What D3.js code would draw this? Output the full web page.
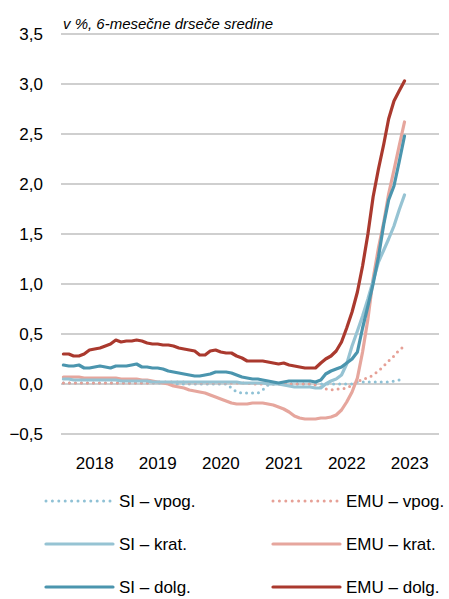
<!DOCTYPE html>
<html lang="sl">
<head>
    <meta charset="UTF-8">
    <title>Obrestne mere, 6-mesečne drseče sredine</title>
    <script src="https://d3js.org/d3.v7.min.js"></script>
    <style>
        body {
            margin: 0;
            background: #fff;
            font-family: "Liberation Sans", Arial, sans-serif;
        }

        .grid line {
            stroke: #bfbfbf;
            stroke-width: 1.5;
        }

        .series {
            fill: none;
            stroke-linejoin: round;
        }
    </style>
</head>
<body>
    <div id="chart"></div>

    <script>
        // monthly observations, Jan 2018 - Jun 2023
        const months = d3.timeMonths(new Date(2018, 0, 1), new Date(2023, 6, 1));
        const yearTicks = [2018, 2019, 2020, 2021, 2022, 2023];
        const yTicks = [-0.5, 0, 0.5, 1, 1.5, 2, 2.5, 3, 3.5];

        const seriesNames = ["SI – vpog.", "EMU – vpog.", "SI – krat.", "EMU – krat.", "SI – dolg.", "EMU – dolg."];

        const siVpog = [
            0.01, 0.01, 0.01, 0.01, 0.01, 0.01, 0.01, 0.01, 0.01, 0.01, 0.01, 0.01,
            0.01, 0.01, 0.01, 0.01, 0.01, 0.01, 0.01, 0.01, 0.01, 0.00, 0.00, 0.00,
            0.00, 0.00, 0.00, 0.00, 0.00, 0.00, 0.00, 0.00, -0.04, -0.08, -0.09, -0.09,
            -0.09, -0.09, -0.06, -0.01, 0.00, 0.00, 0.00, 0.00, 0.00, 0.00, 0.00, 0.00,
            0.00, 0.00, 0.00, 0.00, 0.00, 0.00, 0.00, 0.00, 0.02, 0.02, 0.02, 0.02,
            0.02, 0.02, 0.02, 0.03, 0.04, 0.06
        ];
        const emuVpog = [
            0.01, 0.01, 0.01, 0.01, 0.01, 0.01, 0.01, 0.01, 0.01, 0.01, 0.01, 0.01,
            0.01, 0.01, 0.01, 0.01, 0.01, 0.01, 0.02, 0.02, 0.02, 0.02, 0.02, 0.02,
            0.01, 0.01, 0.01, 0.01, 0.01, 0.01, 0.01, 0.01, 0.01, 0.01, 0.01, 0.01,
            0.00, 0.00, 0.00, 0.00, 0.00, 0.00, 0.00, 0.00, 0.00, 0.00, 0.00, 0.00,
            -0.01, -0.03, -0.05, -0.06, -0.05, -0.05, -0.04, -0.01, 0.02, 0.05, 0.06, 0.09,
            0.13, 0.18, 0.23, 0.28, 0.34, 0.38
        ];
        const siKrat = [
            0.05, 0.05, 0.04, 0.04, 0.04, 0.04, 0.04, 0.04, 0.04, 0.04, 0.04, 0.03,
            0.03, 0.03, 0.03, 0.03, 0.03, 0.02, 0.02, 0.02, 0.02, 0.02, 0.02, 0.02,
            0.02, 0.02, 0.02, 0.02, 0.02, 0.02, 0.02, 0.02, 0.02, 0.02, 0.01, 0.01,
            0.01, 0.01, 0.01, 0.00, 0.00, 0.00, -0.01, -0.02, -0.03, -0.03, -0.03, -0.03,
            -0.04, -0.04, 0.00, 0.03, 0.05, 0.09, 0.20, 0.38, 0.53, 0.68, 0.85, 1.03,
            1.22, 1.34, 1.45, 1.58, 1.74, 1.89
        ];
        const emuKrat = [
            0.07, 0.07, 0.07, 0.07, 0.06, 0.06, 0.06, 0.06, 0.06, 0.06, 0.06, 0.05,
            0.05, 0.05, 0.05, 0.04, 0.04, 0.03, 0.02, 0.01, 0.00, -0.02, -0.03, -0.04,
            -0.06, -0.07, -0.08, -0.09, -0.11, -0.13, -0.15, -0.17, -0.19, -0.20, -0.20, -0.20,
            -0.19, -0.19, -0.19, -0.20, -0.21, -0.23, -0.25, -0.28, -0.32, -0.34, -0.35, -0.35,
            -0.35, -0.34, -0.34, -0.33, -0.31, -0.26, -0.18, -0.08, 0.06, 0.32, 0.65, 1.05,
            1.36, 1.62, 1.90, 2.14, 2.38, 2.62
        ];
        const siDolg = [
            0.19, 0.18, 0.18, 0.19, 0.16, 0.16, 0.17, 0.18, 0.17, 0.16, 0.18, 0.18,
            0.18, 0.19, 0.20, 0.17, 0.17, 0.16, 0.16, 0.15, 0.13, 0.12, 0.11, 0.10,
            0.09, 0.08, 0.08, 0.09, 0.10, 0.12, 0.12, 0.12, 0.11, 0.09, 0.07, 0.06,
            0.05, 0.05, 0.04, 0.03, 0.02, 0.01, 0.02, 0.03, 0.03, 0.03, 0.03, 0.03,
            0.02, 0.04, 0.10, 0.13, 0.15, 0.17, 0.21, 0.25, 0.32, 0.56, 0.78, 1.00,
            1.27, 1.60, 1.84, 1.98, 2.22, 2.48
        ];
        const emuDolg = [
            0.30, 0.30, 0.28, 0.28, 0.30, 0.34, 0.35, 0.36, 0.38, 0.40, 0.44, 0.42,
            0.43, 0.43, 0.44, 0.43, 0.41, 0.40, 0.40, 0.39, 0.39, 0.38, 0.36, 0.35,
            0.34, 0.33, 0.29, 0.29, 0.33, 0.34, 0.32, 0.31, 0.31, 0.28, 0.26, 0.23,
            0.23, 0.23, 0.23, 0.22, 0.21, 0.20, 0.21, 0.19, 0.18, 0.17, 0.16, 0.16,
            0.16, 0.21, 0.25, 0.28, 0.33, 0.42, 0.56, 0.72, 0.92, 1.18, 1.50, 1.87,
            2.15, 2.40, 2.65, 2.83, 2.93, 3.03
        ];

        const seriesValues = [siVpog, emuVpog, siKrat, emuKrat, siDolg, emuDolg];
        const colors = ["#8fc1d5", "#e6a096", "#96c3d3", "#e6a69d", "#4b95ae", "#aa392e"];
        const dotted = [true, true, false, false, false, false];

        const series = seriesNames.map((name, i) => ({
            name: name,
            values: seriesValues[i],
            color: colors[i],
            dotted: dotted[i]
        }));

        const width = 449;
        const height = 599;
        const margin = { top: 34, left: 61, right: 10 };
        const plotHeight = 400;

        const svg = d3.select("#chart")
            .append("svg")
            .attr("width", width)
            .attr("height", height);

        const x = d3.scaleTime()
            .domain([new Date(2018, 0, 1), new Date(2024, 0, 1)])
            .range([margin.left, width - margin.right]);

        const y = d3.scaleLinear()
            .domain([-0.5, 3.5])
            .range([margin.top + plotHeight, margin.top]);

        // gridlines
        svg.append("g")
            .attr("class", "grid")
            .selectAll("line")
            .data(yTicks)
            .join("line")
            .attr("x1", x.range()[0])
            .attr("x2", x.range()[1])
            .attr("y1", d => y(d))
            .attr("y2", d => y(d));

        // y axis labels
        const fmt = d3.format(".1f");
        const yAxis = d3.axisLeft(y)
            .tickValues(yTicks)
            .tickSize(0)
            .tickPadding(0)
            .tickFormat(d => fmt(d).replace(".", ","));

        svg.append("g")
            .attr("transform", "translate(43,0)")
            .call(yAxis)
            .call(g => g.select(".domain").remove())
            .call(g => g.selectAll("text")
                .attr("font-size", 17)
                .attr("font-family", "Liberation Sans, Arial, sans-serif")
                .attr("fill", "#000"));

        // x axis year labels
        const xAxis = d3.axisBottom(x)
            .tickValues(yearTicks.map(yr => new Date(yr, 6, 1)))
            .tickSize(0)
            .tickPadding(0)
            .tickFormat(d3.timeFormat("%Y"));

        svg.append("g")
            .attr("transform", "translate(2,455)")
            .call(xAxis)
            .call(g => g.select(".domain").remove())
            .call(g => g.selectAll("text")
                .attr("dy", "0.8em")
                .attr("font-size", 17)
                .attr("font-family", "Liberation Sans, Arial, sans-serif")
                .attr("fill", "#000"));

        // title
        svg.append("text")
            .attr("x", 63)
            .attr("y", 29)
            .attr("font-size", 15)
            .attr("font-style", "italic")
            .attr("fill", "#000")
            .text("v %, 6-mesečne drseče sredine");

        const line = d3.line()
            .x((d, i) => x(d3.timeDay.offset(months[i], 14)))
            .y(d => y(d));

        // draw order: dotted first, then short, then long rates
        const drawOrder = [0, 1, 3, 2, 5, 4];

        svg.append("g")
            .selectAll("path")
            .data(drawOrder.map(i => series[i]))
            .join("path")
            .attr("class", "series")
            .attr("d", d => line(d.values))
            .attr("stroke", d => d.color)
            .attr("stroke-width", d => d.dotted ? 3 : 3.2)
            .attr("stroke-linecap", "round")
            .attr("stroke-dasharray", d => d.dotted ? "0,6" : null);

        // legend: two columns, three rows
        const legendCols = [46, 273];
        const legendRows = [501, 544, 587];

        const legend = svg.append("g")
            .selectAll("g")
            .data(series)
            .join("g")
            .attr("transform", (d, i) => `translate(${legendCols[i % 2]},${legendRows[Math.floor(i / 2)]})`);

        legend.append("line")
            .attr("x1", 0)
            .attr("x2", 67)
            .attr("stroke", d => d.color)
            .attr("stroke-width", d => d.dotted ? 3 : 3.2)
            .attr("stroke-linecap", "round")
            .attr("stroke-dasharray", d => d.dotted ? "0,6.4" : null);

        legend.append("text")
            .attr("x", 73)
            .attr("y", 6)
            .attr("font-size", 17)
            .attr("fill", "#000")
            .text(d => d.name);
    </script>
</body>
</html>
